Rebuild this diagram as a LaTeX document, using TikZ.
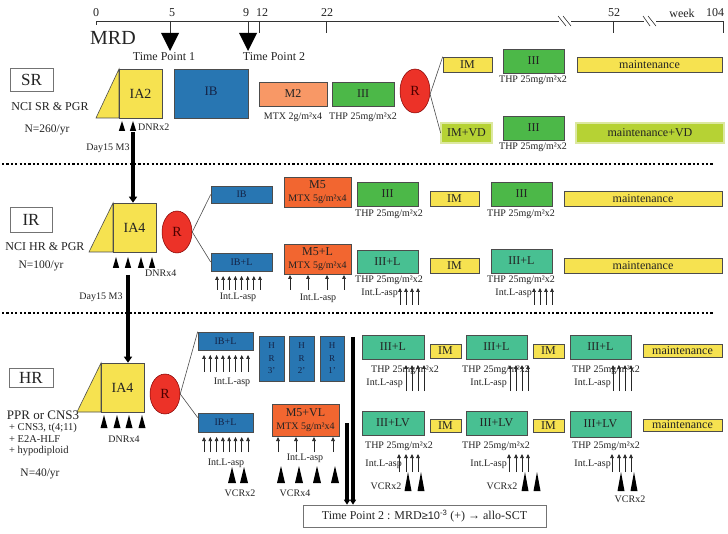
\documentclass[tikz,border=0pt]{standalone}
\usepackage{fontspec}
\setmainfont{Liberation Serif}
\newfontfamily\sansf{Liberation Sans}
\usetikzlibrary{shapes.geometric,arrows.meta}
\definecolor{cyel}{RGB}{246,226,80}
\definecolor{cblue}{RGB}{40,118,178}
\definecolor{corl}{RGB}{248,152,102}
\definecolor{corr}{RGB}{242,102,48}
\definecolor{cgrn}{RGB}{76,184,72}
\definecolor{cteal}{RGB}{72,192,146}
\definecolor{cred}{RGB}{236,50,40}
\definecolor{clime}{RGB}{182,210,52}
\definecolor{climel}{RGB}{220,232,160}
\definecolor{ctxt}{RGB}{35,35,35}
\definecolor{cnavy}{RGB}{20,35,70}
\newcommand\fsz[1]{\fontsize{#1}{#1}\selectfont}
\newcommand\bx[7]{\node[#6, minimum width={#4-#2}, minimum height={#5-#3}] (#1) at ({(#2+#4)/2},{(#3+#5)/2}) {#7};}
\newcommand\uparr[3]{\foreach \xx in {#1} \draw[arw] (\xx,#3) -- (\xx,#2);}
\newcommand\tris[4]{\foreach \xx in {#1} \fill[black] (\xx-#4,#3) -- (\xx+#4,#3) -- (\xx,#2) -- cycle;}
\tikzset{
 bx/.style={draw=black!70, line width=0.6pt, inner sep=0pt, align=center, text=ctxt, font=\fsz{12}},
 yb/.style={bx, fill=cyel},
 bb/.style={bx, fill=cblue, text=cnavy, font=\fsz{10}},
 ob/.style={bx, fill=corl},
 rb/.style={bx, fill=corr},
 gb/.style={bx, fill=cgrn},
 tb/.style={bx, fill=cteal},
 vdb/.style={bx, fill=clime, double=climel, double distance=1.2pt, line width=0.7pt},
 wb/.style={bx, draw=black!55, fill=white},
 rr/.style={ellipse, draw=red!50!black, line width=0.5pt, fill=cred, inner sep=0pt, minimum width=30pt, minimum height=42pt, text=red!30!black, font=\fsz{14}},
 lab/.style={inner sep=0pt, text=ctxt, font=\fsz{10}},
 conn/.style={draw=black!70, line width=0.6pt},
 arw/.style={line width=0.7pt, black!85, -{Triangle[length=4pt,width=3.6pt]}},
 thick arw/.style={line width=3.5pt, black, -{Triangle[length=6pt,width=8pt]}},
 dotsep/.style={line width=2.4pt, dash pattern=on 2.2pt off 2.2pt, black},
}
\begin{document}
\begin{tikzpicture}[x=1pt,y=-1pt]
\useasboundingbox[fill=white] (0,0) rectangle (728,534);
% ---------- timeline ----------
\draw[line width=0.6pt, black!80] (96,25) -- (96,21) -- (559,21);
\draw[line width=0.6pt, black!80] (571,21) -- (644,21);
\draw[line width=0.6pt, black!80] (656,21) -- (723,21) -- (723,33);
\draw[line width=0.6pt, black!80] (558,16) -- (566,26) (563,16) -- (571,26);
\draw[line width=0.6pt, black!80] (643,16) -- (650,26) (648,16) -- (656,26);
\foreach \tx in {170,248,259,326,613} \draw[line width=0.6pt, black!80] (\tx,21) -- (\tx,33);
\fill[black] (161,33) -- (179,33) -- (170,51) -- cycle;
\fill[black] (239,33) -- (257,33) -- (248,51) -- cycle;
\foreach \tx/\tl in {96/0,172/5,246/9,262/12,327/22,614/52,682/week,715/104}
  \node[lab, font=\fsz{12}] (t\tl) at (\tx,13) {\tl};
\node[lab, font=\fsz{20}] (mrd) at (113,38) {MRD};
\node[lab, font=\fsz{12}] (tp1) at (164,57) {Time Point 1};
\node[lab, font=\fsz{12}] (tp2) at (274,57) {Time Point 2};
% ---------- SR ----------
\bx{srl}{10}{68}{53}{91}{wb, font=\fsz{17}}{SR}
\node[lab, font=\fsz{12}] (srn) at (50,107) {NCI SR \& PGR};
\node[lab, font=\fsz{11.5}] (srk) at (47,130) {N=260/yr};
\fill[cyel] (96,118) -- (119,69) -- (119,118) -- cycle;
\bx{iaa}{119}{69}{162}{118}{yb, font=\fsz{14}}{IA2}
\draw[conn] (96,118) -- (119,69) -- (119,118) -- cycle;
\tris{122,133}{121}{131}{3.2}
\node[lab, anchor=west] (dnra) at (138,127) {DNRx2};
\node[lab] (daya) at (108,148) {Day15 M3};
\bx{iba}{174}{69}{248}{118}{bb, font=\fsz{13}}{\raisebox{5pt}{IB}}
\bx{mtwo}{259}{82}{327}{106}{ob}{M2}
\node[lab] at (293,117) {MTX 2g/m²x4};
\bx{iiia}{332}{82}{394}{106}{gb}{III}
\node[lab] at (363,117) {THP 25mg/m²x2};
\node[rr, minimum height=44pt] (ra) at (415,91) {R};
\bx{ima}{443}{57}{492}{72}{yb}{IM}
\bx{iiib}{503}{49}{564}{73}{gb}{III}
\node[lab] at (533,80) {THP 25mg/m²x2};
\bx{mna}{577}{57}{722}{72}{yb}{maintenance}
\bx{imvd}{441}{123}{492}{143}{vdb}{IM+VD}
\bx{iiic}{503}{116}{564}{140}{gb}{III}
\node[lab] at (533,147) {THP 25mg/m²x2};
\bx{mnvd}{576}{123}{724}{143}{vdb}{maintenance+VD}
\draw[conn] (ra.-12) -- (ima.north west);
\draw[conn] (ra.-12) -- (imvd.west);
\draw[dotsep] (2,164) -- (714,164);
% ---------- IR ----------
\bx{irl}{10}{207}{52}{232}{wb, font=\fsz{17}}{IR}
\node[lab, font=\fsz{12}] (irn) at (45,247) {NCI HR \& PGR};
\node[lab, font=\fsz{11.5}] (irk) at (41,266) {N=100/yr};
\fill[cyel] (89,252) -- (113,203) -- (113,252) -- cycle;
\bx{iab}{113}{203}{156}{252}{yb, font=\fsz{14}}{IA4}
\draw[conn] (89,252) -- (113,203) -- (113,252) -- cycle;
\tris{116,128,141,152}{257}{268}{3.2}
\node[lab, anchor=west] (dnrb) at (145,273) {DNRx4};
\node[lab] (dayb) at (101,297) {Day15 M3};
\coordinate (sa) at (133,132);
\draw[thick arw] (sa) -- (sa |- iab.north);
\node[rr, minimum height=42pt] (rb) at (177,232) {R};
\bx{ibb}{211}{186}{272}{203}{bb}{IB}
\bx{ibl}{211}{253}{272}{271}{bb}{IB+L}
\draw[conn] (rb.east) -- (ibb.west);
\draw[conn] (rb.east) -- (ibl.west);
\foreach \i in {0,...,7} \draw[arw] ({217+\i*6.14},290) -- ({217+\i*6.14},276);
\node[lab] at (238,297) {Int.L-asp};
\bx{mfa}{284}{177}{351}{207}{rb}{M5\\[1pt]{\fsz{10}MTX 5g/m²x4}}
\bx{mfl}{284}{244}{351}{274}{rb}{M5+L\\[1pt]{\fsz{10}MTX 5g/m²x4}}
\uparr{290,308,327,344}{275}{290}
\node[lab] at (318,298) {Int.L-asp};
\bx{iiid}{357}{182}{418}{206}{gb}{III}
\node[lab] at (389,214) {THP 25mg/m²x2};
\bx{imb}{430}{191}{479}{206}{yb}{IM}
\bx{iiie}{491}{182}{552}{206}{gb}{III}
\node[lab] at (521,214) {THP 25mg/m²x2};
\bx{mnb}{564}{191}{722}{206}{yb}{maintenance}
\bx{iiila}{357}{250}{418}{273}{tb}{III+L}
\node[lab] at (389,280) {THP 25mg/m²x2};
\node[lab, anchor=east] at (398,293) {Int.L-asp};
\uparr{400,406,412,418}{288}{305}
\bx{imc}{430}{258}{479}{273}{yb}{IM}
\bx{iiilb}{491}{249}{552}{273}{tb}{III+L}
\node[lab] at (521,280) {THP 25mg/m²x2};
\node[lab, anchor=east] at (532,293) {Int.L-asp};
\uparr{534,540,546,552}{288}{305}
\bx{mnc}{564}{258}{722}{273}{yb}{maintenance}
\draw[dotsep] (2,313) -- (714,313);
% ---------- HR ----------
\bx{hrl}{9}{368}{53}{387}{wb, font=\fsz{17}}{HR}
\node[lab, font=\fsz{13}] (hrn) at (43,415) {PPR or CNS3};
\node[lab, anchor=west, font=\fsz{10.5}] (hra) at (9,428) {+ CNS3, t(4;11)};
\node[lab, anchor=west, font=\fsz{10.5}] (hrb) at (9,439) {+ E2A-HLF};
\node[lab, anchor=west, font=\fsz{10.5}] (hrc) at (9,451) {+ hypodiploid};
\node[lab, font=\fsz{11.5}] (hrk) at (40,474) {N=40/yr};
\fill[cyel] (77,412) -- (101,363) -- (101,412) -- cycle;
\bx{iac}{101}{363}{144}{412}{yb, font=\fsz{14}}{IA4}
\draw[conn] (77,412) -- (101,363) -- (101,412) -- cycle;
\tris{104,117,129,142}{415}{428}{3.5}
\node[lab] (dnrc) at (124,439) {DNRx4};
\coordinate (sb) at (128,275);
\draw[thick arw] (sb) -- (sb |- iac.north);
\node[rr, minimum height=40pt] (rc) at (165,394) {R};
\bx{ibla}{198}{332}{253}{350}{bb}{IB+L}
\bx{iblb}{198}{413}{253}{432}{bb}{IB+L}
\draw[conn] (rc.east) -- (ibla.north west);
\draw[conn] (rc.east) -- (iblb.170);
\foreach \i in {0,...,7} \draw[arw] ({204+\i*6.29},372) -- ({204+\i*6.29},355);
\node[lab] at (232,382) {Int.L-asp};
\foreach \i in {0,...,7} \draw[arw] ({204+\i*6.29},452) -- ({204+\i*6.29},437);
\node[lab] at (226,463) {Int.L-asp};
\tris{232,244}{467}{483}{4}
\node[lab] at (240,493) {VCRx2};
\bx{hrt}{259}{336}{284}{381}{bb, font=\fontsize{9}{12.5}\selectfont}{H\\R\\3'}
\bx{hrs}{289}{336}{314}{381}{bb, font=\fontsize{9}{12.5}\selectfont}{H\\R\\2'}
\bx{hro}{320}{336}{344}{381}{bb, font=\fontsize{9}{12.5}\selectfont}{H\\R\\1'}
\bx{mvl}{272}{404}{339}{436}{rb}{M5+VL\\[1pt]{\fsz{10}MTX 5g/m²x4}}
\uparr{278,296,314,333}{437}{452}
\node[lab] at (305,458) {Int.L-asp};
\tris{281,299,317,335}{466}{483}{4}
\node[lab] at (295,493) {VCRx4};
\bx{tpb}{303}{505}{546}{527}{wb, font=\fsz{12}}{Time Point 2 : MRD{\sansf\fsz{11}≥10\textsuperscript{-3}} (+) → allo-SCT}
\coordinate (va) at (353,337);
\coordinate (vb) at (347,423);
\draw[thick arw, -{Triangle[length=5pt,width=6pt]}] (va) -- (va |- tpb.north);
\draw[thick arw, -{Triangle[length=5pt,width=6pt]}] (vb) -- (vb |- tpb.north);
% right HR upper
\bx{hla}{362}{335}{424}{359}{tb}{III+L}
\node[lab] at (405,370) {THP 25mg/m²x2};
\node[lab, anchor=east] at (403,383) {Int.L-asp};
\uparr{406,412,418,424}{365}{391}
\bx{hia}{430}{344}{461}{358}{yb}{IM}
\bx{hlb}{466}{335}{527}{359}{tb}{III+L}
\node[lab] at (496,370) {THP 25mg/m²x2};
\node[lab, anchor=east] at (507,383) {Int.L-asp};
\uparr{510,516,522,528}{365}{391}
\bx{hib}{533}{344}{564}{358}{yb}{IM}
\bx{hlc}{570}{335}{631}{359}{tb}{III+L}
\node[lab] at (606,370) {THP 25mg/m²x2};
\node[lab, anchor=east] at (611,383) {Int.L-asp};
\uparr{613,619,625,631}{365}{391}
\bx{hma}{643}{344}{722}{357}{yb}{maintenance}
% right HR lower
\bx{hva}{362}{411}{424}{435}{tb}{III+LV}
\node[lab] at (399,446) {THP 25mg/m²x2};
\node[lab, anchor=east] at (402,464) {Int.L-asp};
\uparr{399,406,412,418}{454}{472}
\tris{408,421}{472}{491}{3.5}
\node[lab] at (386,486) {VCRx2};
\bx{hic}{430}{419}{461}{432}{yb}{IM}
\bx{hvb}{466}{411}{527}{435}{tb}{III+LV}
\node[lab] at (496,446) {THP 25mg/m²x2};
\node[lab, anchor=east] at (507,464) {Int.L-asp};
\uparr{509,516,522,528}{454}{472}
\tris{525,537}{472}{491}{3.5}
\node[lab] at (502,486) {VCRx2};
\bx{hid}{533}{419}{564}{432}{yb}{IM}
\bx{hvc}{570}{411}{631}{437}{tb}{III+LV}
\node[lab] at (606,446) {THP 25mg/m²x2};
\node[lab, anchor=east] at (611,464) {Int.L-asp};
\uparr{612,619,625,631}{454}{472}
\tris{621,634}{472}{491}{3.5}
\node[lab] at (630,499) {VCRx2};
\bx{hmb}{643}{419}{722}{431}{yb}{maintenance}
\end{tikzpicture}
\end{document}
